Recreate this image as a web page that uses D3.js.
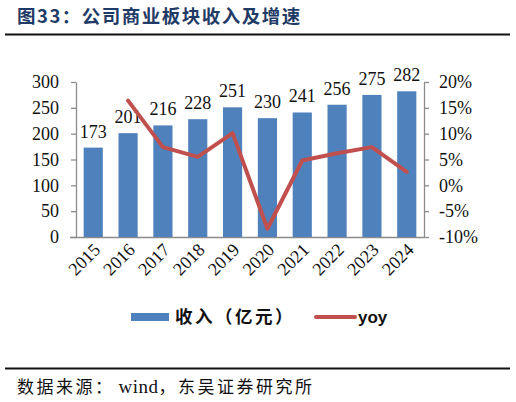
<!DOCTYPE html>
<html>
<head>
<meta charset="utf-8">
<script src="https://cdn.jsdelivr.net/npm/d3@7"></script>
<style>
  html, body { margin: 0; padding: 0; background: #fff; }
  svg { display: block; }
</style>
</head>
<body>
<div id="chart"></div>
<script>
const YEARS = ["2015","2016","2017","2018","2019","2020","2021","2022","2023","2024"];
const REVENUE = [173, 201, 216, 228, 251, 230, 241, 256, 275, 282];
// yoy growth in %, first year has none
const YOY = [null, 16.4, 7.4, 5.5, 10.1, -8.4, 4.8, 6.2, 7.4, 2.6];
const LEFT_TICKS = [0, 50, 100, 150, 200, 250, 300];
const RIGHT_TICKS = [-10, -5, 0, 5, 10, 15, 20];

const TITLE = "图33：公司商业板块收入及增速";
const SOURCE_PARTS = ["数据来源：", "wind", "，东吴证券研究所"];
const LEGEND_BAR = "收入（亿元）";
const LEGEND_LINE = "yoy";

const W = 516, H = 402;
const serif = "'Liberation Serif', 'Times New Roman', serif";
const cjk = "'Noto Sans CJK SC', sans-serif";
const barColor = "#4F81BD";
const lineColor = "#C0504D";
const axisColor = "#8c8c8c";

const svg = d3.select("#chart").append("svg")
  .attr("width", W)
  .attr("height", H);

// ---- header / footer ----
svg.append("text")
  .attr("x", 17).attr("y", 23)
  .attr("font-family", cjk)
  .attr("font-weight", 700)
  .attr("font-size", 18.5)
  .attr("letter-spacing", 1.5)
  .attr("fill", "#1f3b66")
  .text(TITLE);

svg.append("line")
  .attr("x1", 5).attr("x2", 510).attr("y1", 34.5).attr("y2", 34.5)
  .attr("stroke", "#111").attr("stroke-width", 2);

svg.append("line")
  .attr("x1", 5).attr("x2", 510).attr("y1", 368.5).attr("y2", 368.5)
  .attr("stroke", "#111").attr("stroke-width", 2);

const src = svg.append("text")
  .attr("x", 17).attr("y", 393)
  .attr("font-size", 17)
  .attr("fill", "#111");
src.selectAll("tspan")
  .data(SOURCE_PARTS)
  .join("tspan")
  .attr("font-family", (d, i) => i === 1 ? serif : cjk)
  .attr("font-size", (d, i) => i === 1 ? 19 : 17)
  .attr("letter-spacing", (d, i) => i === 1 ? 0.5 : 2.5)
  .attr("dx", (d, i) => i === 1 ? 4 : 0)
  .text(d => d);

// ---- scales ----
const x = d3.scaleBand().domain(YEARS).range([76, 424])
  .paddingInner(0.45).paddingOuter(0.22);
const yL = d3.scaleLinear().domain([0, 300]).range([237, 82]);
const yR = d3.scaleLinear().domain([-10, 20]).range([237, 82]);

// ---- axes ----
const gL = svg.append("g").attr("transform", "translate(76,0)")
  .call(d3.axisLeft(yL).tickValues(LEFT_TICKS).tickSize(5).tickPadding(12).tickSizeOuter(0));
const gR = svg.append("g").attr("transform", "translate(424,0)")
  .call(d3.axisRight(yR).tickValues(RIGHT_TICKS).tickSize(5).tickPadding(10)
    .tickFormat(d => d + "%").tickSizeOuter(0));
const gX = svg.append("g").attr("transform", "translate(0,237)")
  .call(d3.axisBottom(x).tickSize(0).tickSizeOuter(0).tickPadding(0));

[gL, gR, gX].forEach(g => {
  g.selectAll("path,line").attr("stroke", axisColor).attr("stroke-width", 1.3);
  g.selectAll("text")
    .attr("font-family", serif)
    .attr("font-size", 18)
    .attr("fill", "#111");
});
gX.select("path.domain").attr("d", "M70,0.5H424");

gX.selectAll(".tick text")
  .attr("text-anchor", "end")
  .attr("dy", 0)
  .attr("transform", "translate(8,14) rotate(-45)");

// ---- bars ----
svg.append("g").selectAll("rect")
  .data(REVENUE)
  .join("rect")
  .attr("x", (d, i) => x(YEARS[i]))
  .attr("y", d => yL(d))
  .attr("width", x.bandwidth())
  .attr("height", d => yL(0) - yL(d))
  .attr("fill", barColor);

svg.append("g").selectAll("text")
  .data(REVENUE)
  .join("text")
  .attr("x", (d, i) => x(YEARS[i]) + x.bandwidth() / 2)
  .attr("y", d => yL(d) - 10)
  .attr("text-anchor", "middle")
  .attr("font-family", serif)
  .attr("font-size", 18)
  .attr("fill", "#111")
  .text(d => d);

// ---- yoy line ----
const pts = YOY.map((v, i) => ({ year: YEARS[i], v })).filter(d => d.v !== null);
svg.append("path")
  .datum(pts)
  .attr("fill", "none")
  .attr("stroke", lineColor)
  .attr("stroke-width", 4)
  .attr("stroke-linejoin", "round")
  .attr("stroke-linecap", "round")
  .attr("d", d3.line()
    .x(d => x(d.year) + x.bandwidth() / 2)
    .y(d => yR(d.v)));

// ---- legend ----
const lg = svg.append("g");
lg.append("rect")
  .attr("x", 131).attr("y", 313)
  .attr("width", 38).attr("height", 8)
  .attr("fill", barColor);
lg.append("text")
  .attr("x", 175).attr("y", 323)
  .attr("font-family", cjk)
  .attr("font-weight", 700)
  .attr("font-size", 17.5)
  .attr("letter-spacing", 2.5)
  .attr("fill", "#111")
  .text(LEGEND_BAR);
lg.append("line")
  .attr("x1", 316).attr("x2", 355).attr("y1", 317).attr("y2", 317)
  .attr("stroke", lineColor).attr("stroke-width", 4)
  .attr("stroke-linecap", "round");
lg.append("text")
  .attr("x", 358).attr("y", 323)
  .attr("font-family", "'Liberation Sans', Arial, sans-serif")
  .attr("font-weight", 700)
  .attr("font-size", 17)
  .attr("fill", "#111")
  .text(LEGEND_LINE);
</script>
</body>
</html>
